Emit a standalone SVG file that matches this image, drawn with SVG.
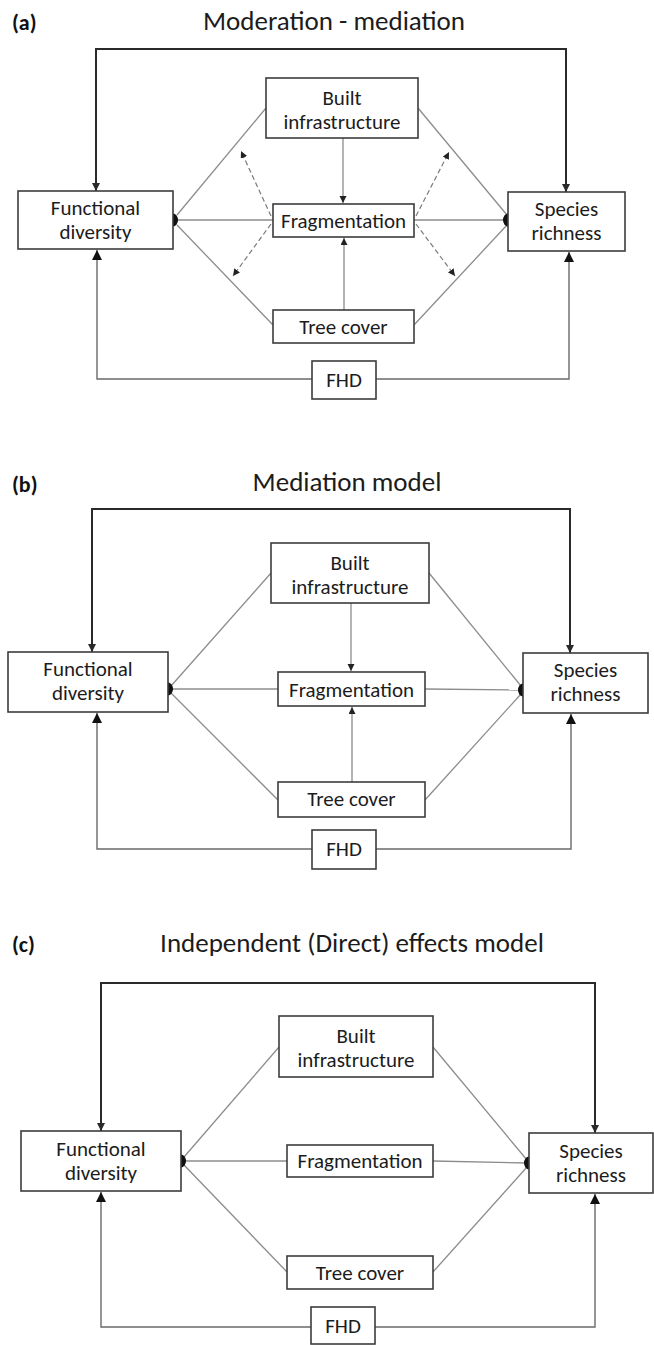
<svg xmlns="http://www.w3.org/2000/svg" width="654" height="1345" viewBox="0 0 654 1345">
  <style>
    .box { fill: #ffffff; stroke: #3c3c3c; stroke-width: 1.6; }
    .lbl { font-family: Carlito, Lato, "Liberation Sans", sans-serif; font-size: 21px; fill: #1c1c1c; text-anchor: middle; }
    .ttl { font-family: Carlito, Lato, "Liberation Sans", sans-serif; font-size: 27px; fill: #1c1c1c; text-anchor: middle; }
    .tag { font-family: Carlito, Lato, "Liberation Sans", sans-serif; font-size: 22px; font-weight: bold; fill: #111; }
    .loop { fill: none; stroke: #2a2a2a; stroke-width: 2; marker-start: url(#arrL); marker-end: url(#arrL); }
    .ln { fill: none; stroke: #8c8c8c; stroke-width: 1.3; }
    .va { fill: none; stroke: #8c8c8c; stroke-width: 1.3; marker-end: url(#arrS); }
    .dash { fill: none; stroke: #7a7a7a; stroke-width: 1.2; stroke-dasharray: 5 3; marker-end: url(#arrS); }
    .fhd { fill: none; stroke: #6a6a6a; stroke-width: 1.4; marker-end: url(#arrB); }
    .blob { fill: #111; }
  </style>
  <defs>
    <marker id="arrL" markerUnits="userSpaceOnUse" markerWidth="10" markerHeight="10" refX="8" refY="4" orient="auto-start-reverse">
      <path d="M0,0 L8,4 L0,8 Z" fill="#2a2a2a"/>
    </marker>
    <marker id="arrS" markerUnits="userSpaceOnUse" markerWidth="10" markerHeight="10" refX="7" refY="3.5" orient="auto">
      <path d="M0,0 L7,3.5 L0,7 Z" fill="#222"/>
    </marker>
    <marker id="arrB" markerUnits="userSpaceOnUse" markerWidth="12" markerHeight="12" refX="10" refY="5" orient="auto">
      <path d="M0,0 L10,5 L0,10 Z" fill="#111"/>
    </marker>
  </defs>

  <!-- ================= Panel (a) ================= -->
  <g id="panel-a-titles">
    <text class="tag" x="12" y="30">(a)</text>
    <text class="ttl" x="334" y="30">Moderation - mediation</text>
  </g>
  <g id="connectors-a">
    <path class="loop" d="M96,191 L96,49 L566,49 L566,192"/>
    <path class="ln" d="M266,108 L177,215"/>
    <path class="ln" d="M418,108 L507,215"/>
    <path class="ln" d="M273,220 L177,220"/>
    <path class="ln" d="M414,220 L507,220"/>
    <path class="ln" d="M177,225 L273,325"/>
    <path class="ln" d="M414,325 L507,225"/>
    <path class="va" d="M343,138 L343,203"/>
    <path class="va" d="M344,310 L344,238"/>
    <path class="dash" d="M271,216 L241,151"/>
    <path class="dash" d="M271,224 L233,276"/>
    <path class="dash" d="M416,216 L449,152"/>
    <path class="dash" d="M416,224 L455,276"/>
    <path class="fhd" d="M312,379 L97,379 L97,250"/>
    <path class="fhd" d="M376,379 L569,379 L569,252"/>
    <path class="blob" d="M173,213.5 A5,6.5 0 0 1 173,226.5 Z"/>
    <path class="blob" d="M508,213.5 A5,6.5 0 0 0 508,226.5 Z"/>
  </g>
  <g id="a-functional-diversity">
    <rect class="box" x="18" y="191" width="155" height="58"/>
    <text class="lbl" x="95.5" y="215">Functional</text>
    <text class="lbl" x="95.5" y="239">diversity</text>
  </g>
  <g id="a-species-richness">
    <rect class="box" x="508" y="192" width="117" height="59"/>
    <text class="lbl" x="566.5" y="216">Species</text>
    <text class="lbl" x="566.5" y="240">richness</text>
  </g>
  <g id="a-built-infrastructure">
    <rect class="box" x="266" y="78" width="152" height="60"/>
    <text class="lbl" x="342" y="105">Built</text>
    <text class="lbl" x="342" y="129">infrastructure</text>
  </g>
  <g id="a-fragmentation">
    <rect class="box" x="273" y="204" width="141" height="33"/>
    <text class="lbl" x="343.5" y="228">Fragmentation</text>
  </g>
  <g id="a-tree-cover">
    <rect class="box" x="273" y="310" width="141" height="33"/>
    <text class="lbl" x="343.5" y="334">Tree cover</text>
  </g>
  <g id="a-fhd">
    <rect class="box" x="312" y="361" width="64" height="38"/>
    <text class="lbl" x="344" y="387">FHD</text>
  </g>

  <!-- ================= Panel (b) ================= -->
  <g id="panel-b-titles">
    <text class="tag" x="12" y="492">(b)</text>
    <text class="ttl" x="347" y="491">Mediation model</text>
  </g>
  <g id="connectors-b">
    <path class="loop" d="M92,652 L92,509 L570,509 L570,653"/>
    <path class="ln" d="M271,573 L171,686"/>
    <path class="ln" d="M429,573 L521,686"/>
    <path class="ln" d="M278,689 L171,689"/>
    <path class="ln" d="M425,689 L521,690"/>
    <path class="ln" d="M171,693 L278,800"/>
    <path class="ln" d="M425,800 L521,694"/>
    <path class="va" d="M351,603 L351,671"/>
    <path class="va" d="M352,782 L352,707"/>
    <path class="fhd" d="M312,849 L97,849 L97,713"/>
    <path class="fhd" d="M376,849 L571,849 L571,714"/>
    <path class="blob" d="M168,682.5 A5,6.5 0 0 1 168,695.5 Z"/>
    <path class="blob" d="M523,683.5 A5,6.5 0 0 0 523,696.5 Z"/>
  </g>
  <g id="b-functional-diversity">
    <rect class="box" x="8" y="652" width="160" height="60"/>
    <text class="lbl" x="88" y="676">Functional</text>
    <text class="lbl" x="88" y="700">diversity</text>
  </g>
  <g id="b-species-richness">
    <rect class="box" x="523" y="653" width="125" height="60"/>
    <text class="lbl" x="585.5" y="677">Species</text>
    <text class="lbl" x="585.5" y="701">richness</text>
  </g>
  <g id="b-built-infrastructure">
    <rect class="box" x="271" y="543" width="158" height="60"/>
    <text class="lbl" x="350" y="570">Built</text>
    <text class="lbl" x="350" y="594">infrastructure</text>
  </g>
  <g id="b-fragmentation">
    <rect class="box" x="278" y="672" width="147" height="34"/>
    <text class="lbl" x="351.5" y="697">Fragmentation</text>
  </g>
  <g id="b-tree-cover">
    <rect class="box" x="278" y="782" width="147" height="35"/>
    <text class="lbl" x="351.5" y="806">Tree cover</text>
  </g>
  <g id="b-fhd">
    <rect class="box" x="312" y="830" width="64" height="39"/>
    <text class="lbl" x="344" y="856">FHD</text>
  </g>

  <!-- ================= Panel (c) ================= -->
  <g id="panel-c-titles">
    <text class="tag" x="12" y="952">(c)</text>
    <text class="ttl" x="352" y="952">Independent (Direct) effects model</text>
  </g>
  <g id="connectors-c">
    <path class="loop" d="M101,1131 L101,983 L595,983 L595,1133"/>
    <path class="ln" d="M279,1047 L184,1157"/>
    <path class="ln" d="M433,1047 L527,1160"/>
    <path class="ln" d="M287,1161 L184,1161"/>
    <path class="ln" d="M433,1161 L527,1163"/>
    <path class="ln" d="M184,1165 L287,1272"/>
    <path class="ln" d="M433,1272 L527,1167"/>
    <path class="fhd" d="M311,1327 L101,1327 L101,1192"/>
    <path class="fhd" d="M375,1327 L595,1327 L595,1194"/>
    <path class="blob" d="M181,1154.5 A5,6.5 0 0 1 181,1167.5 Z"/>
    <path class="blob" d="M529,1156.5 A5,6.5 0 0 0 529,1169.5 Z"/>
  </g>
  <g id="c-functional-diversity">
    <rect class="box" x="21" y="1131" width="160" height="60"/>
    <text class="lbl" x="101" y="1156">Functional</text>
    <text class="lbl" x="101" y="1180">diversity</text>
  </g>
  <g id="c-species-richness">
    <rect class="box" x="529" y="1133" width="124" height="60"/>
    <text class="lbl" x="591" y="1158">Species</text>
    <text class="lbl" x="591" y="1182">richness</text>
  </g>
  <g id="c-built-infrastructure">
    <rect class="box" x="279" y="1016" width="154" height="61"/>
    <text class="lbl" x="356" y="1043">Built</text>
    <text class="lbl" x="356" y="1067">infrastructure</text>
  </g>
  <g id="c-fragmentation">
    <rect class="box" x="287" y="1145" width="146" height="32"/>
    <text class="lbl" x="360" y="1168">Fragmentation</text>
  </g>
  <g id="c-tree-cover">
    <rect class="box" x="287" y="1256" width="146" height="33"/>
    <text class="lbl" x="360" y="1280">Tree cover</text>
  </g>
  <g id="c-fhd">
    <rect class="box" x="311" y="1307" width="64" height="37"/>
    <text class="lbl" x="343" y="1333">FHD</text>
  </g>
</svg>
